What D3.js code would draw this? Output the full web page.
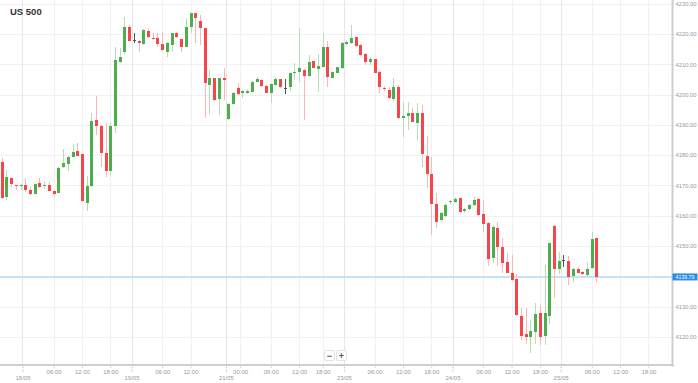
<!DOCTYPE html>
<html>
<head>
<meta charset="utf-8">
<script src="https://cdn.jsdelivr.net/npm/d3@7"></script>
<style>
html,body{margin:0;padding:0;background:#fff;}
svg{display:block;font-family:"Liberation Sans",Arial,sans-serif;}
</style>
</head>
<body>
<svg id="chart" width="698" height="383"></svg>
<script>
// ---- data (hourly candles, index = slot) ----
const opens  = [4177.8,4166.3,4172.3,4170.0,4169.9,4170.1,4168.5,4167.2,4170.7,4169.9,4170.1,4168.2,4167.6,4176.0,4177.1,4179.5,4181.4,4180.3,4164.3,4169.8,
 4191.6,4189.6,4180.8,4174.8,4189.6,4210.8,4213.9,4222.4,4218.0,4217.7,4216.7,4221.0,4218.8,4218.5,4216.6,4214.1,4216.3,4220.2,4218.2,4215.8,
 4222.4,4226.8,4224.4,4221.8,4203.1,4205.3,4198.4,4205.3,4191.8,4196.9,4202.0,4200.4,4200.6,4200.9,4204.2,4204.8,4202.9,4200.4,4203.1,4205.0,
 4202.2,4202.4,4207.0,4207.3,4208.1,4206.1,4210.9,4208.5,4209.2,4215.8,4205.6,4207.2,4208.7,4216.7,4216.9,4218.9,4216.3,4213.4,4210.8,4211.6,
 4207.5,4202.2,4201.5,4198.5,4202.6,4192.1,4192.9,4193.8,4190.5,4193.8,4179.7,4173.8,4163.9,4158.6,4160.0,4164.4,4164.6,4165.7,4161.6,4162.2,
 4163.5,4165.4,4160.5,4157.5,4145.9,4155.8,4149.6,4144.8,4141.2,4139.0,4126.9,4120.9,4120.1,4121.7,4127.8,4120.3,4126.9,4156.6,4142.5,4145.4,
 4145.0,4140.2,4142.3,4141.4,4140.4,4142.6,4152.5];
const highs  = [4178.9,4175.1,4172.7,4170.2,4170.3,4172.3,4169.4,4170.6,4172.3,4171.6,4171.2,4168.4,4176.1,4181.9,4179.7,4183.7,4183.9,4180.5,4173.1,4194.0,
 4199.5,4189.8,4190.5,4190.5,4215.8,4215.2,4225.7,4222.8,4220.2,4218.0,4221.5,4221.8,4220.2,4220.4,4220.7,4217.3,4220.4,4220.7,4218.4,4225.1,
 4227.0,4227.0,4226.2,4222.0,4208.1,4205.5,4205.5,4208.6,4197.1,4200.8,4203.7,4201.4,4201.8,4204.5,4205.9,4205.0,4203.1,4203.7,4205.9,4205.2,
 4205.0,4207.4,4210.5,4221.8,4208.3,4213.0,4211.1,4213.3,4220.2,4217.8,4207.7,4209.2,4217.3,4218.0,4222.9,4219.1,4216.8,4213.6,4212.3,4211.8,
 4207.7,4202.9,4202.6,4205.3,4203.3,4197.6,4197.6,4195.4,4197.1,4196.5,4186.3,4179.5,4167.6,4161.3,4164.0,4165.3,4166.3,4166.0,4162.6,4164.0,
 4166.3,4165.8,4165.2,4157.8,4156.9,4158.0,4152.5,4147.6,4147.0,4140.8,4129.4,4129.4,4125.6,4131.3,4130.5,4143.7,4151.1,4156.8,4148.1,4147.0,
 4146.6,4142.9,4143.1,4141.6,4144.8,4154.7,4152.7];
const lows   = [4165.5,4165.2,4169.6,4168.5,4168.5,4167.9,4166.9,4167.0,4169.0,4168.7,4168.0,4166.5,4167.4,4175.8,4174.8,4179.3,4179.6,4164.5,4161.7,4169.6,
 4186.6,4176.0,4172.7,4173.4,4187.2,4210.5,4213.5,4217.5,4216.9,4214.1,4216.4,4218.7,4218.0,4215.8,4214.5,4212.5,4214.1,4218.7,4214.1,4215.6,
 4220.2,4216.9,4216.3,4192.1,4193.2,4197.8,4193.2,4198.2,4191.6,4196.7,4200.0,4198.7,4200.2,4200.7,4204.0,4202.6,4200.4,4197.3,4202.9,4202.2,
 4200.2,4201.0,4204.8,4204.2,4191.6,4205.9,4208.7,4200.9,4209.0,4202.6,4205.4,4207.0,4208.5,4216.5,4216.7,4215.8,4212.8,4209.7,4209.7,4207.0,
 4200.4,4201.3,4198.5,4197.9,4191.8,4185.9,4188.3,4190.8,4185.0,4176.2,4169.0,4153.6,4155.8,4158.0,4159.5,4163.8,4164.3,4161.0,4160.8,4161.8,
 4163.3,4160.0,4154.7,4143.4,4144.5,4143.4,4141.0,4141.0,4138.6,4127.0,4119.0,4117.7,4114.6,4117.7,4117.3,4117.3,4124.3,4132.7,4140.8,4143.0,
 4137.1,4138.2,4141.0,4140.5,4139.7,4142.4,4138.2];
const closes = [4165.9,4172.9,4170.5,4169.8,4170.1,4168.5,4167.1,4170.4,4169.4,4170.1,4168.2,4167.2,4175.9,4177.3,4179.5,4181.0,4179.8,4164.7,4169.8,4191.4,
 4189.6,4180.6,4174.8,4189.6,4211.4,4212.3,4222.4,4217.8,4218.0,4216.9,4221.3,4218.9,4218.2,4216.6,4214.7,4217.1,4220.2,4218.9,4215.8,4222.4,
 4226.8,4225.1,4221.8,4203.7,4205.3,4198.2,4205.3,4204.8,4196.9,4200.6,4200.2,4201.2,4201.3,4204.2,4205.0,4202.8,4200.6,4203.5,4205.0,4202.4,
 4202.2,4207.2,4207.5,4208.6,4206.1,4210.6,4208.9,4209.5,4215.8,4205.7,4207.5,4209.0,4217.1,4217.3,4218.5,4216.0,4213.0,4210.6,4211.6,4207.2,
 4202.4,4201.8,4198.7,4202.4,4192.1,4193.0,4193.8,4191.0,4193.8,4180.4,4173.8,4163.9,4157.8,4160.8,4163.5,4165.0,4165.4,4161.3,4162.2,4163.5,
 4165.2,4160.2,4157.3,4145.6,4156.2,4149.6,4144.5,4141.2,4138.8,4127.2,4120.3,4120.1,4121.8,4127.4,4120.1,4127.8,4150.9,4142.3,4144.9,4145.4,
 4139.9,4142.3,4141.2,4140.7,4142.3,4152.2,4139.79];

const yTickValues = [4120,4130,4140,4150,4160,4170,4180,4190,4200,4210,4220,4230];
const hourTickSlots  = [11,17,23,34,40,50.5,57,63,68,79,85,91,102,108,114,125,131,137];
const hourTickLabels = ["06:00","12:00","18:00","06:00","12:00","00:00","06:00","12:00","18:00","06:00","12:00","18:00","06:00","12:00","18:00","06:00","12:00","18:00"];
const dateTickSlots  = [4.4,27.5,47.5,72.5,95.5,118.4];
const dateTickLabels = ["18/05","19/05","21/05","23/05","24/05","25/05"];
const symbol = "US 500";
const lastPrice = 4139.79;

// ---- layout ----
const W = 698, H = 383;
const plotW = 672, plotH = 365;
const svg = d3.select("#chart");

const x = d3.scaleLinear().domain([-0.36, 142]).range([0, plotW]);
const y = d3.scaleLinear().domain([4110.73, 4231.19]).range([plotH, 0]);

const candles = opens.map((o, i) => ({i, o, h: highs[i], l: lows[i], c: closes[i]}));

// grid
const grid = svg.append("g").attr("shape-rendering", "crispEdges");
grid.selectAll("line.hy").data(yTickValues).join("line")
  .attr("x1", 0).attr("x2", plotW)
  .attr("y1", d => Math.round(y(d)) + 0.5).attr("y2", d => Math.round(y(d)) + 0.5)
  .attr("stroke", "#f1f1f1");
grid.selectAll("line.vh").data(hourTickSlots).join("line")
  .attr("x1", d => Math.round(x(d)) + 0.5).attr("x2", d => Math.round(x(d)) + 0.5)
  .attr("y1", 0).attr("y2", plotH)
  .attr("stroke", "#f1f1f1");
grid.selectAll("line.vd").data(dateTickSlots).join("line")
  .attr("x1", d => Math.round(x(d)) + 0.5).attr("x2", d => Math.round(x(d)) + 0.5)
  .attr("y1", 0).attr("y2", plotH)
  .attr("stroke", "#e6e6e6");

// last price line
svg.append("line")
  .attr("x1", 0).attr("x2", plotW)
  .attr("y1", y(lastPrice)).attr("y2", y(lastPrice))
  .attr("stroke", "#c6e2f7").attr("stroke-width", 2);

// candles
const up = "#4cae4f", down = "#f5474b", flat = "#555";
const upW = "#b5dfb3", downW = "#f9b7b8";
const cg = svg.append("g").attr("shape-rendering", "crispEdges");
cg.selectAll("line.w").data(candles).join("line")
  .attr("x1", d => Math.round(x(d.i)) + 0.5).attr("x2", d => Math.round(x(d.i)) + 0.5)
  .attr("y1", d => y(d.h)).attr("y2", d => y(d.l))
  .attr("stroke", d => d.c > d.o ? upW : d.c < d.o ? downW : flat);
cg.selectAll("rect").data(candles).join("rect")
  .attr("x", d => Math.round(x(d.i)) - 1)
  .attr("width", 3)
  .attr("y", d => y(Math.max(d.o, d.c)))
  .attr("height", d => Math.max(1, Math.abs(y(d.o) - y(d.c))))
  .attr("fill", d => d.c > d.o ? up : d.c < d.o ? down : flat);

// axes
const yAxis = d3.axisRight(y).tickValues(yTickValues).tickSize(2).tickPadding(1.5)
  .tickFormat(d3.format(".2f"));
const ya = svg.append("g").attr("transform", `translate(${plotW},0)`).call(yAxis);
ya.select(".domain").attr("stroke", "#cfcfcf").attr("stroke-width", 2);
ya.selectAll(".tick line").attr("stroke", "#cfcfcf");
ya.selectAll(".tick text").attr("fill", "#9a9a9a").attr("font-size", 5.8)
  .attr("font-family", "Liberation Sans, Arial, sans-serif");
// the current-price label covers the tick label nearest to it
ya.selectAll(".tick").filter(d => Math.abs(y(d) - y(lastPrice)) < 7).select("text").remove();

const xAxisH = d3.axisBottom(x).tickValues(hourTickSlots).tickSize(3).tickPadding(2)
  .tickFormat((d, k) => hourTickLabels[k]);
const xa = svg.append("g").attr("transform", `translate(0,${plotH})`).call(xAxisH);
xa.select(".domain").attr("stroke", "#cfcfcf").attr("stroke-width", 2).attr("d", `M0,0H${plotW}`);
xa.selectAll(".tick line").attr("stroke", "#d5d5d5");
xa.selectAll(".tick text").attr("fill", "#9a9a9a").attr("font-size", 6)
  .attr("font-family", "Liberation Sans, Arial, sans-serif");

const xAxisD = d3.axisBottom(x).tickValues(dateTickSlots).tickSize(8).tickPadding(2.5)
  .tickFormat((d, k) => dateTickLabels[k]);
const xd = svg.append("g").attr("transform", `translate(0,${plotH})`).call(xAxisD);
xd.select(".domain").remove();
xd.selectAll(".tick line").attr("stroke", "#bbb").attr("stroke-dasharray", "1,1");
xd.selectAll(".tick text").attr("fill", "#9a9a9a").attr("font-size", 6)
  .attr("font-family", "Liberation Sans, Arial, sans-serif");

// last price label
const lp = svg.append("g").attr("transform", `translate(${plotW},${y(lastPrice)})`);
lp.append("rect").attr("x", 0.5).attr("y", -3.5).attr("width", 25).attr("height", 7).attr("fill", "#2b8de4");
lp.append("text").attr("x", 13).attr("y", 0).attr("dy", "0.35em").attr("text-anchor", "middle")
  .attr("fill", "#fff").attr("font-size", 5.2).text(d3.format(".2f")(lastPrice));

// title
svg.append("text").attr("x", 10).attr("y", 14.5).attr("font-size", 9.5).attr("font-weight", "bold")
  .attr("fill", "#333").text(symbol);

// zoom buttons
const zb = svg.append("g").attr("transform", "translate(324,350)");
[["\u2212", 0], ["+", 12]].forEach(([t, dx]) => {
  zb.append("rect").attr("x", dx + 0.5).attr("y", 0.5).attr("width", 10).attr("height", 10).attr("rx", 1.5)
    .attr("fill", "#fff").attr("stroke", "#e3e3e3");
  zb.append("text").attr("x", dx + 5.5).attr("y", 5.5).attr("dy", "0.35em").attr("text-anchor", "middle")
    .attr("font-size", 9).attr("font-weight", "bold").attr("fill", "#555").text(t);
});
</script>
</body>
</html>
